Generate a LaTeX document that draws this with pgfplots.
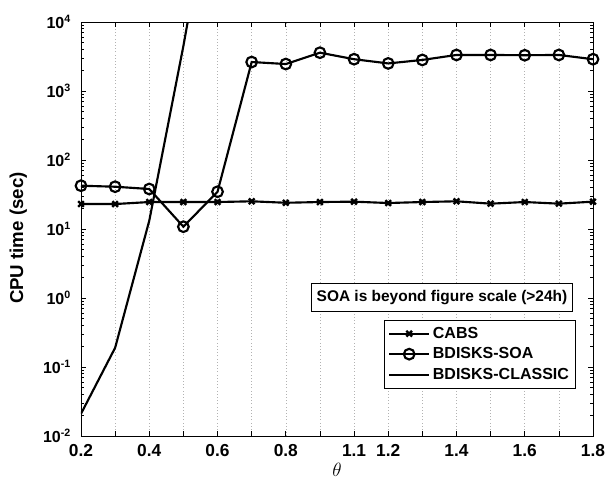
\documentclass[border=0pt]{standalone}
\usepackage{fontspec}
\setmainfont{Liberation Sans}
\usepackage{pgfplots}
\pgfplotsset{compat=1.18}
\begin{document}
\begin{tikzpicture}[x=1pt,y=1pt]
\useasboundingbox (-60.75,-38.25) rectangle (393.75,327);
\begin{axis}[
  at={(0,0)}, anchor=south west,
  scale only axis, width=384pt, height=310.5pt,
  ymode=log, ymin=1e-2, ymax=1e4,
  xmin=0, xmax=15,
  xtick={0,...,15},
  xticklabels={0.2,,0.4,,0.6,,0.8,,1.1,1.2,,1.4,,1.6,,1.8},
  ytick={1e-2,1e-1,1,1e1,1e2,1e3,1e4},
  minor ytick={2e-2,3e-2,4e-2,5e-2,6e-2,7e-2,8e-2,9e-2,
    2e-1,3e-1,4e-1,5e-1,6e-1,7e-1,8e-1,9e-1,
    2,3,4,5,6,7,8,9,20,30,40,50,60,70,80,90,
    200,300,400,500,600,700,800,900,2000,3000,4000,5000,6000,7000,8000,9000},
  yticklabels={10\textsuperscript{-2},10\textsuperscript{-1},10\textsuperscript{0},10\textsuperscript{1},10\textsuperscript{2},10\textsuperscript{3},10\textsuperscript{4}},
  xticklabel style={font=\fontsize{13}{14}\selectfont\bfseries, yshift=-3pt},
  yticklabel style={font=\fontsize{12}{13}\selectfont\bfseries, xshift=-4pt},
  xmajorgrids,
  grid style={dotted, gray!60, line width=0.4pt},
  tick align=inside, major tick length=4pt, minor tick length=2.2pt,
  tick style={line width=0.5pt, black},
  axis line style={line width=0.6pt},
  ylabel={\fontsize{14}{15}\selectfont\bfseries CPU time (sec)},
  ylabel style={at={(axis description cs:-0.1225,0.478)}, anchor=center},
  xlabel={\fontsize{14}{15}\selectfont$\theta$},
  xlabel style={at={(axis description cs:0.5,-0.082)}, anchor=center},
  legend style={at={(0.9668,0.1152)}, anchor=south east, draw=black, line width=0.6pt,
    font=\fontsize{12}{13}\selectfont\bfseries, row sep=1.5pt, inner sep=3pt,
    legend cell align=left},
  legend image post style={line width=1.6pt},
  legend image code/.code={\draw[#1] (0pt,0pt) -- (30pt,0pt) plot coordinates {(15pt,0pt)};},
]
\addplot[black, line width=1.6pt, mark=x, mark size=3pt, mark options={line width=1.8pt}]
 coordinates {(0,23) (1,23) (2,24.6) (3,24.6) (4,24.6) (5,25.2) (6,24) (7,24.6)
  (8,24.9) (9,23.8) (10,24.6) (11,25.2) (12,23.3) (13,24.6) (14,23.3) (15,24.9)};
\addlegendentry{CABS}
\addplot[black, line width=1.6pt, mark=o, mark size=4pt, mark options={line width=1.6pt}]
 coordinates {(0,42.4) (1,41) (2,38) (3,10.8) (4,34.7) (5,2630) (6,2460) (7,3590)
  (8,2890) (9,2510) (10,2820) (11,3330) (12,3330) (13,3300) (14,3330) (15,2890)};
\addlegendentry{BDISKS-SOA}
\addplot[black, line width=1.6pt]
 coordinates {(0,0.021) (1,0.19) (2,13.2) (3,4500) (4,2.6e6)};
\addlegendentry{BDISKS-CLASSIC}
\node[draw=black, line width=0.6pt, fill=white, inner xsep=4pt, inner ysep=5pt,
  font=\fontsize{11.6}{13}\selectfont\bfseries] at (rel axis cs:0.705,0.3345)
  {SOA is beyond figure scale (>24h)};
\end{axis}
\end{tikzpicture}
\end{document}
